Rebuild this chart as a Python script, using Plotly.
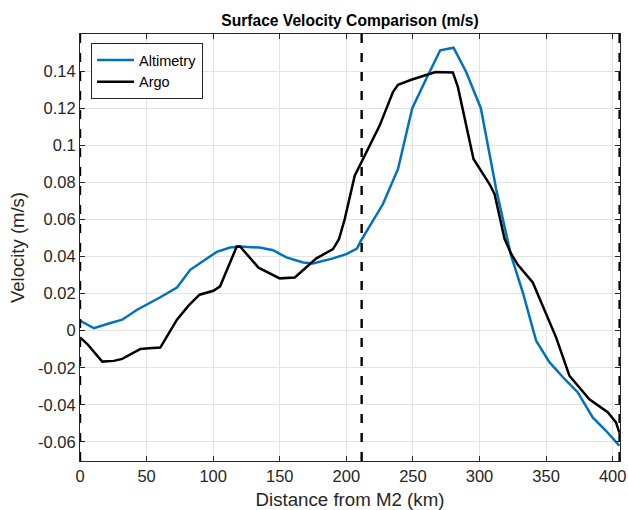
import plotly.graph_objects as go

alt_x = [0, 10.5, 20.4, 31.7, 42.9, 60.3, 72.8, 82.8, 92.8, 102.7, 112.7, 120, 135, 145, 155, 167.6, 175, 190, 200, 208, 211,
         227.5, 238.8, 249.5, 260, 270.5, 280.5, 290, 301, 312.5, 323.5, 332.5, 342.5, 352.5, 362.5, 373.8, 385, 395, 405]
alt_v = [0.0054, 0.0013, 0.0036, 0.0059, 0.0113, 0.018, 0.0233, 0.0328, 0.0377, 0.0425, 0.0448, 0.0454, 0.0448, 0.0434,
         0.0395, 0.0368, 0.0362, 0.039, 0.0413, 0.0443, 0.0485,
         0.0683, 0.0872, 0.12, 0.1359, 0.1512, 0.1526, 0.1395, 0.12, 0.0764, 0.041, 0.0207, -0.0054, -0.017, -0.025,
         -0.0333, -0.0468, -0.054, -0.062]

argo_x = [0, 5.5, 16.7, 25.4, 31.7, 45.4, 51.7, 60.3, 72.8, 81.5, 89.8, 100.2, 105.2, 117.7, 120.2, 134, 150, 161.3,
          177.5, 190, 194.5, 198.8, 206.3, 212.5, 221.3, 225, 235, 238.8, 248.8, 267, 280, 283.8, 295.5, 307.5, 311.3,
          318.8, 323.8, 328.8, 340, 350, 357.5, 367.5, 382.5, 396.3, 402.5, 405]
argo_v = [-0.0036, -0.0072, -0.0167, -0.0163, -0.0152, -0.0099, -0.0095, -0.0091, 0.0059, 0.0135, 0.0194, 0.0215,
          0.0239, 0.0454, 0.0454, 0.034, 0.0282, 0.0287, 0.039, 0.044, 0.0494, 0.0602, 0.0836, 0.0926, 0.1061, 0.1106,
          0.1287, 0.1326, 0.1353, 0.1395, 0.1393, 0.1313, 0.0926, 0.0791, 0.0737, 0.0495, 0.0414, 0.0355, 0.026, 0.009,
          -0.0036, -0.0243, -0.037, -0.044, -0.0495, -0.055]

boundaries = [0, 211.5, 405.2]

x_ticks = [0, 50, 100, 150, 200, 250, 300, 350, 400]
y_ticks = [-0.06, -0.04, -0.02, 0, 0.02, 0.04, 0.06, 0.08, 0.1, 0.12, 0.14]
y_tick_text = ["-0.06", "-0.04", "-0.02", "0", "0.02", "0.04", "0.06", "0.08", "0.1", "0.12", "0.14"]

FONT = "Liberation Sans, Arial, sans-serif"
INK = "#262626"

fig = go.Figure()
fig.add_trace(go.Scatter(x=alt_x, y=alt_v, mode="lines", name="Altimetry",
                         line=dict(color="#0072BD", width=2.5)))
fig.add_trace(go.Scatter(x=argo_x, y=argo_v, mode="lines", name="Argo",
                         line=dict(color="#000000", width=2.5)))

for b in boundaries:
    fig.add_shape(type="line", xref="x", yref="paper", x0=b, x1=b, y0=0, y1=1,
                  line=dict(color="black", width=2.4, dash="9px,10px"), layer="above")

axis_common = dict(showgrid=True, gridcolor="#e3e3e3", gridwidth=1, zeroline=False,
                   showline=True, linecolor=INK, linewidth=1, mirror="ticks",
                   ticks="inside", ticklen=5, tickcolor=INK, automargin=False,
                   tickfont=dict(family=FONT, size=16.5, color=INK))

fig.update_xaxes(range=[0, 405.5], tickvals=x_ticks,
                 title=dict(text="Distance from M2 (km)", font=dict(family=FONT, size=18.7, color=INK)),
                 **axis_common)
fig.update_yaxes(range=[-0.0703, 0.16], tickvals=y_ticks, ticktext=y_tick_text,
                 title=dict(text="Velocity (m/s)", font=dict(family=FONT, size=18.5, color=INK), standoff=8),
                 **axis_common)

fig.update_layout(
    width=628, height=510,
    margin=dict(l=80, r=8, t=34, b=49, autoexpand=False),
    paper_bgcolor="white", plot_bgcolor="white",
    title=dict(text="<b>Surface Velocity Comparison (m/s)</b>", x=0.5, xanchor="center",
               xref="paper", y=1 - 21 / 510, yanchor="middle",
               font=dict(family=FONT, size=15.6, color="black")),
    legend=dict(x=0.0204, y=0.979, xanchor="left", yanchor="top",
                bgcolor="white", bordercolor=INK, borderwidth=1,
                font=dict(family=FONT, size=14.5, color="black"),
                tracegroupgap=0, itemwidth=37),
    showlegend=True,
)

fig.write_html("out.html", config={"displayModeBar": False},
               post_script="document.body.style.margin='0';document.body.style.overflow='hidden';")
